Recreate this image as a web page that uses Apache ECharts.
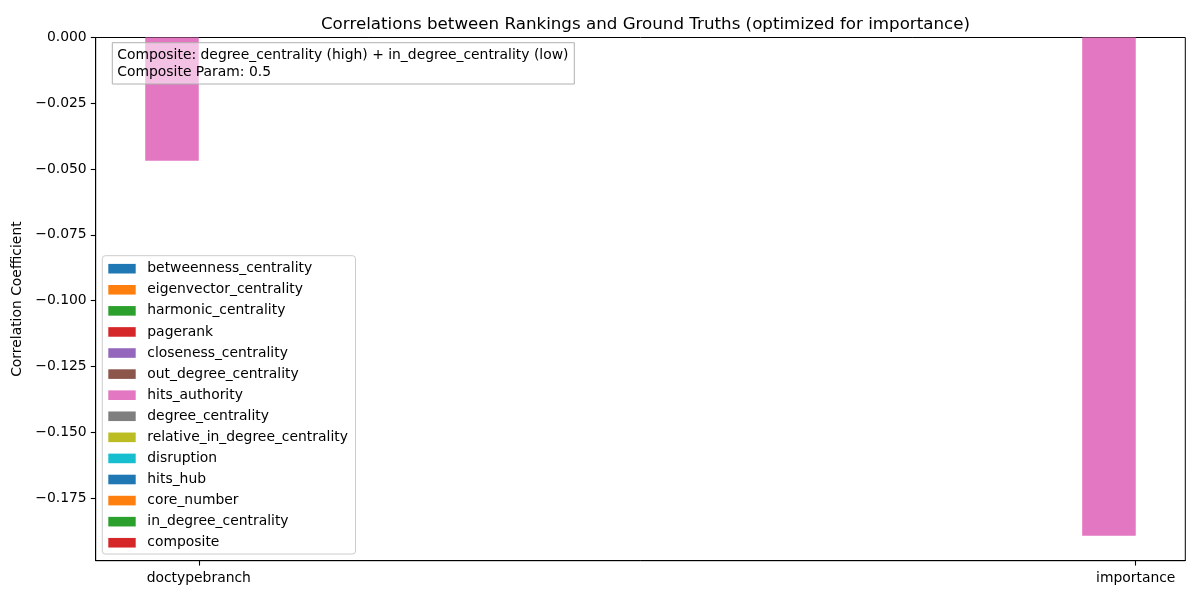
<!DOCTYPE html>
<html>
<head>
<meta charset="utf-8">
<script src="https://cdn.jsdelivr.net/npm/echarts@6/dist/echarts.min.js"></script>
<style>html,body{margin:0;padding:0;background:#fff;}#c{width:1200px;height:600px;}</style>
</head>
<body>
<div id="c"></div>
<script>
const categories = ['doctypebranch', 'importance'];
const seriesNames = ['betweenness_centrality','eigenvector_centrality','harmonic_centrality','pagerank','closeness_centrality','out_degree_centrality','hits_authority','degree_centrality','relative_in_degree_centrality','disruption','hits_hub','core_number','in_degree_centrality','composite'];
const seriesColors = ['#1f77b4','#ff7f0e','#2ca02c','#d62728','#9467bd','#8c564b','#e377c2','#7f7f7f','#bcbd22','#17becf','#1f77b4','#ff7f0e','#2ca02c','#d62728'];
// NaN (not drawn) for all series except hits_authority
const betweennessCentrality = [null, null];
const eigenvectorCentrality = [null, null];
const harmonicCentrality = [null, null];
const pagerank = [null, null];
const closenessCentrality = [null, null];
const outDegreeCentrality = [null, null];
const hitsAuthority = [-0.0468, -0.1893];
const degreeCentrality = [null, null];
const relativeInDegreeCentrality = [null, null];
const disruption = [null, null];
const hitsHub = [null, null];
const coreNumber = [null, null];
const inDegreeCentrality = [null, null];
const composite = [null, null];
const seriesValues = [betweennessCentrality, eigenvectorCentrality, harmonicCentrality, pagerank, closenessCentrality, outDegreeCentrality, hitsAuthority, degreeCentrality, relativeInDegreeCentrality, disruption, hitsHub, coreNumber, inDegreeCentrality, composite];
const xTicks = [0, 1];
const yTicks = [0, -0.025, -0.05, -0.075, -0.1, -0.125, -0.15, -0.175];
const annotationLines = ['Composite: degree_centrality (high) + in_degree_centrality (low)', 'Composite Param: 0.5'];
const titleText = 'Correlations between Rankings and Ground Truths (optimized for importance)';
const yName = 'Correlation Coefficient';

const FONT = 'DejaVu Sans';
const nS = seriesNames.length;
const barW = 0.8 / nS;

const chart = echarts.init(document.getElementById('c'), null, {renderer: 'canvas'});

const series = seriesNames.map((name, si) => ({
  name: name,
  type: 'custom',
  itemStyle: {color: seriesColors[si]},
  encode: {x: 0, y: 1},
  data: seriesValues[si].map((v, ci) => v == null ? null : [ci, v]).filter(d => d),
  renderItem: function (params, api) {
    const ci = api.value(0), v = api.value(1);
    const c = ci + (si - (nS - 1) / 2) * barW;
    const p0 = api.coord([c - barW / 2, 0]);
    const p1 = api.coord([c + barW / 2, v]);
    return {
      type: 'rect',
      shape: {x: p0[0], y: Math.min(p0[1], p1[1]), width: p1[0] - p0[0], height: Math.abs(p1[1] - p0[1])},
      style: {fill: seriesColors[si]}
    };
  }
}));

const fmtY = v => {
  if (Math.abs(v) < 1e-9) return '0.000';
  const s = Math.abs(v).toFixed(3);
  return (v < 0 ? '\u2212' : '') + s;
};

const option = {
  animation: false,
  backgroundColor: '#fff',
  title: {
    text: titleText,
    left: 640.5, top: 11, textAlign: 'center',
    textStyle: {fontFamily: FONT, fontSize: 16.7, fontWeight: 'normal', color: '#000'}
  },
  grid: {left: 95.7, right: 14.7, top: 37.5, bottom: 39.3, show: true, borderColor: '#000', borderWidth: 1, backgroundColor: 'transparent'},
  xAxis: {
    type: 'value', min: -0.1100, max: 1.0529,
    splitLine: {show: false},
    axisLine: {show: true, onZero: false, lineStyle: {color: '#000', width: 1}},
    axisTick: {show: true, inside: false, length: 4.9, customValues: xTicks, lineStyle: {color: '#000', width: 1.1}},
    axisLabel: {customValues: xTicks, margin: 11, color: '#000', fontFamily: FONT, fontSize: 13.9, formatter: v => categories[Math.round(v)]}
  },
  yAxis: {
    type: 'value', min: -0.1988, max: 0,
    name: yName, nameLocation: 'middle', nameRotate: 90, nameGap: 66,
    nameTextStyle: {fontFamily: FONT, fontSize: 13.9, color: '#000'},
    splitLine: {show: false},
    axisLine: {show: true, onZero: false, lineStyle: {color: '#000', width: 1}},
    axisTick: {show: true, inside: false, length: 4.9, customValues: yTicks, lineStyle: {color: '#000', width: 1.1}},
    axisLabel: {customValues: yTicks, margin: 9, color: '#000', fontFamily: FONT, fontSize: 13.9, formatter: fmtY}
  },
  legend: {
    orient: 'vertical', left: 102.3, top: 255.7,
    icon: 'rect', itemWidth: 27.4, itemHeight: 9.6, itemGap: 7.08,
    padding: [6, 7.6, 4.3, 6],
    backgroundColor: 'rgba(255,255,255,0.8)', borderColor: '#cccccc', borderWidth: 1, borderRadius: 3,
    textStyle: {fontFamily: FONT, fontSize: 13.9, color: '#000', lineHeight: 14, padding: [0, 0, 0, 6.6]},
    data: seriesNames,
    selectedMode: false
  },
  graphic: [
    {
      type: 'rect', z: 100,
      shape: {x: 112.3, y: 42.7, width: 462, height: 41.3},
      style: {fill: 'rgba(255,255,255,0.55)', stroke: '#b0b0b0', lineWidth: 1}
    },
    {
      type: 'text', z: 101, left: 117.3, top: 47,
      style: {text: annotationLines.join('\n'), font: '13.9px "DejaVu Sans"', fill: '#000', lineHeight: 16.7}
    }
  ],
  series: series
};
chart.setOption(option);
</script>
</body>
</html>
